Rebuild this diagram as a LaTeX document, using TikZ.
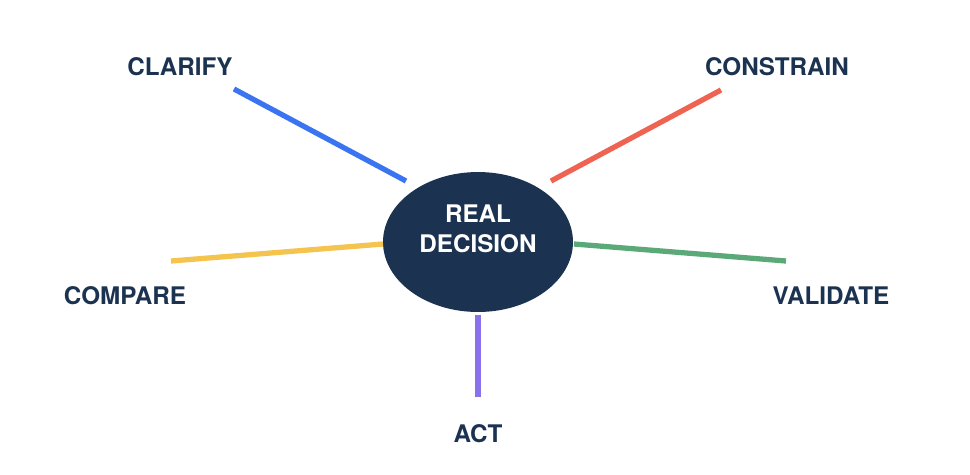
\documentclass[tikz,border=0pt]{standalone}
\usepackage{fontspec}
\setmainfont{TeX Gyre Heros}
\usetikzlibrary{shapes.geometric}
\definecolor{navy}{HTML}{1B3350}
\definecolor{cblue}{HTML}{3B74F0}
\definecolor{cred}{HTML}{EE6352}
\definecolor{cyellow}{HTML}{F4C44E}
\definecolor{cgreen}{HTML}{5BA878}
\definecolor{cpurple}{HTML}{8A72EE}
\begin{document}
\begin{tikzpicture}[x=0.02cm,y=-0.02cm,
    every path/.style={line width=3pt},
    lbl/.style={text=navy,font=\fontsize{13.8}{16}\selectfont\bfseries}]
  \useasboundingbox (0,0) rectangle (970,474);
  % centre
  \node[ellipse,fill=navy,minimum width=3.8cm,minimum height=2.8cm] (dec) at (478,242) {};
  \node[text=white,align=center,font=\fontsize{13.8}{17}\selectfont\bfseries]
    (dectxt) at (478,229) {REAL\\DECISION};
  % free ends
  \coordinate (cla) at (234,89);
  \coordinate (con) at (721,90);
  \coordinate (cmp) at (171,261);
  \coordinate (val) at (786,261);
  \coordinate (act) at (478,397);
  \draw[cblue]   (cla) -- (406,181);
  \draw[cred]    (con) -- (551,181);
  \draw[cyellow] (cmp) -- (383,244);
  \draw[cgreen]  (val) -- (574,244);
  \draw[cpurple] (act) -- (dec.south);
  % labels
  \node[lbl] (tcla) at (180,67)  {CLARIFY};
  \node[lbl] (tcon) at (777,67)  {CONSTRAIN};
  \node[lbl] (tcmp) at (125,296) {COMPARE};
  \node[lbl] (tval) at (831,296) {VALIDATE};
  \node[lbl] (tact) at (478,434) {ACT};
\end{tikzpicture}
\end{document}
